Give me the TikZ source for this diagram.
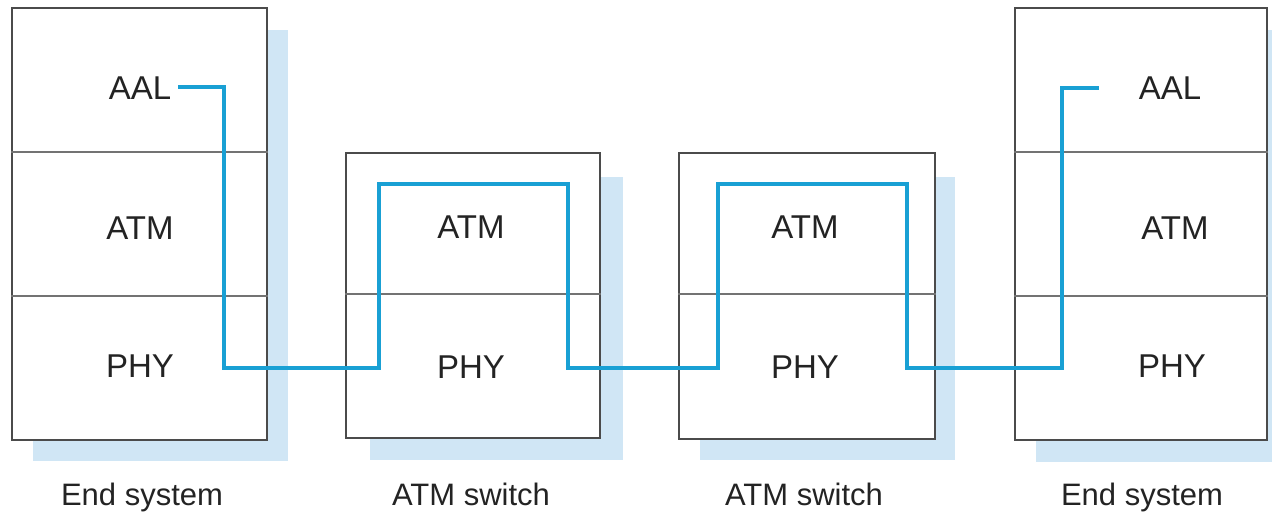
\documentclass[tikz,border=0pt]{standalone}
\usepackage{fontspec}
\setmainfont{Liberation Sans}
\definecolor{boxline}{RGB}{75,75,75}
\definecolor{divline}{RGB}{115,115,115}
\definecolor{pathblue}{RGB}{25,160,212}
\definecolor{shadowblue}{RGB}{208,230,245}
\definecolor{txt}{RGB}{35,35,35}
\begin{document}
\begin{tikzpicture}[x=1pt,y=-1pt,
  box/.style={draw=boxline,line width=2.3pt,fill=white,inner sep=0pt},
  layer/.style={text=txt,font=\fontsize{33}{36}\selectfont,inner sep=0pt},
  caption/.style={text=txt,font=\fontsize{31}{34}\selectfont,inner sep=0pt,anchor=base},
  divider/.style={draw=divline,line width=2.3pt},
  conn/.style={draw=pathblue,line width=3.4pt}]
\useasboundingbox (0,0) rectangle (1272,513);
% shadows
\fill[shadowblue] (33,30) rectangle (288,461);
\fill[shadowblue] (370,177) rectangle (623,460);
\fill[shadowblue] (700,177) rectangle (955,460);
\fill[shadowblue] (1036,30) rectangle (1290,462);
% boxes
\node[box,minimum width=255pt,minimum height=432pt] (es1) at (139.5,224) {};
\node[box,minimum width=254pt,minimum height=285pt] (sw1) at (473,295.5) {};
\node[box,minimum width=256pt,minimum height=286pt] (sw2) at (807,296) {};
\node[box,minimum width=252pt,minimum height=432pt] (es2) at (1141,224) {};
% dividers
\draw[divider] (es1.west |- 0,152) -- (es1.east |- 0,152);
\draw[divider] (es1.west |- 0,296) -- (es1.east |- 0,296);
\draw[divider] (sw1.west |- 0,294) -- (sw1.east |- 0,294);
\draw[divider] (sw2.west |- 0,294) -- (sw2.east |- 0,294);
\draw[divider] (es2.west |- 0,152) -- (es2.east |- 0,152);
\draw[divider] (es2.west |- 0,296) -- (es2.east |- 0,296);
% layer labels
\node[layer] (aal1) at (140,88) {AAL};
\node[layer] (atm1) at (140,228) {ATM};
\node[layer] (phy1) at (140,366) {PHY};
\node[layer] (atm2) at (471,227) {ATM};
\node[layer] (phy2) at (471,367) {PHY};
\node[layer] (atm3) at (805,227) {ATM};
\node[layer] (phy3) at (805,367) {PHY};
\node[layer] (aal4) at (1170,88) {AAL};
\node[layer] (atm4) at (1175,228) {ATM};
\node[layer] (phy4) at (1172,366) {PHY};
% captions
\node[caption] (c1) at (142,505) {End system};
\node[caption] (c2) at (471,505) {ATM switch};
\node[caption] (c3) at (804,505) {ATM switch};
\node[caption] (c4) at (1142,505) {End system};
% connector
\coordinate (p0) at (178,87);
\coordinate (p1) at (224,87);
\coordinate (p2) at (224,368);
\coordinate (p3) at (379,368);
\coordinate (p4) at (379,184);
\coordinate (p5) at (568,184);
\coordinate (p6) at (568,368);
\coordinate (p7) at (718,368);
\coordinate (p8) at (718,184);
\coordinate (p9) at (907,184);
\coordinate (p10) at (907,368);
\coordinate (p11) at (1062,368);
\coordinate (p12) at (1062,88);
\coordinate (p13) at (1099,88);
\draw[conn] (p0) -- (p1) -- (p2) -- (p3) -- (p4) -- (p5) -- (p6) -- (p7) -- (p8) -- (p9) -- (p10) -- (p11) -- (p12) -- (p13);
\end{tikzpicture}
\end{document}
